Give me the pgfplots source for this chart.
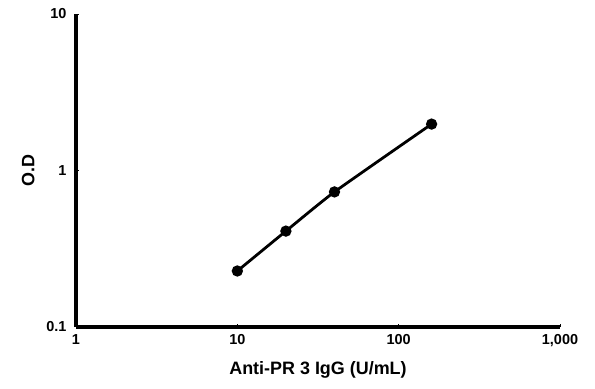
\documentclass[border=0pt]{standalone}
\usepackage{fontspec}
\setmainfont{Liberation Sans}
\usepackage{pgfplots}
\pgfplotsset{compat=1.18}
\begin{document}
\begin{tikzpicture}
\useasboundingbox (-76bp,-62bp) rectangle (519bp,327bp);
\begin{axis}[
  at={(0,0)}, anchor=south west,
  scale only axis, width=484bp, height=313bp,
  xmode=log, ymode=log,
  xmin=1, xmax=1000, ymin=0.1, ymax=10,
  axis x line*=bottom, axis y line*=left,
  x axis line style={line width=3.3pt, -},
  y axis line style={line width=3.3pt, -},
  xtick={1,10,100,1000}, xticklabels={1,10,100,{1,000}},
  ytick={0.1,1,10}, yticklabels={0.1,1,10},
  /pgf/number format/assume math mode=true,
  minor tick num=0,
  major tick length=3bp, minor tick length=2bp,
  tick style={line width=1pt, black},
  tick align=inside,
  tick label style={font=\fontsize{14.5}{16}\selectfont\bfseries},
  xticklabel style={yshift=-4bp},
  yticklabel style={xshift=-6bp},
  xlabel={Anti-PR 3 IgG (U/mL)},
  ylabel={O.D},
  label style={font=\fontsize{18}{20}\selectfont\bfseries},
  xlabel style={at={(axis description cs:0.5,0)}, anchor=center, yshift=-43bp},
  ylabel style={yshift=5bp},
  clip=false,
]
\addplot[black, line width=2.8pt, smooth, tension=0.3, mark=*, mark size=4.2pt]
  coordinates {(10,0.228) (20,0.41) (40,0.73) (160,1.98)};
\end{axis}
\end{tikzpicture}
\end{document}
